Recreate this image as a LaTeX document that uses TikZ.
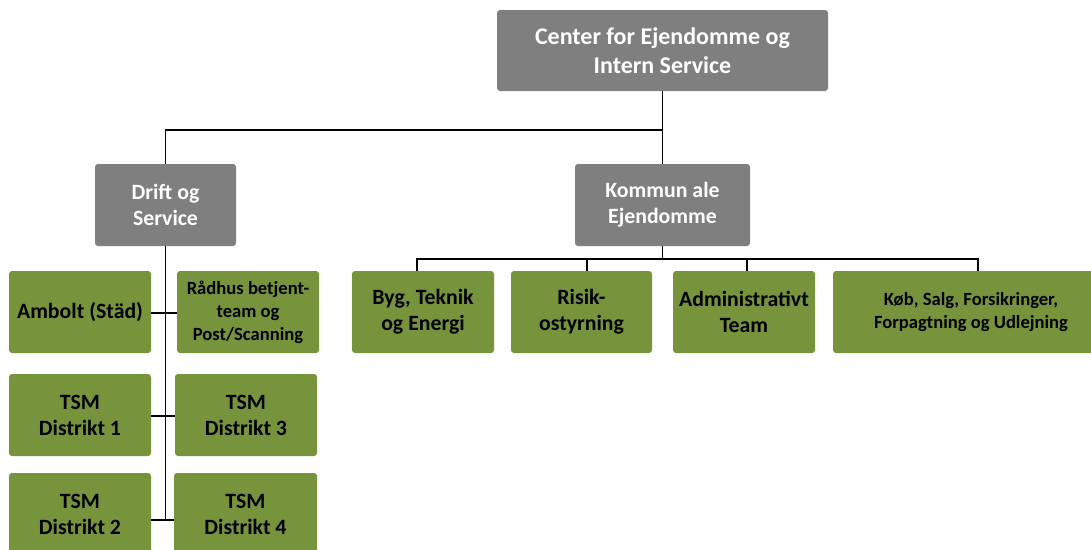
\documentclass[tikz,border=0pt]{standalone}
\usepackage{fontspec}
\setmainfont{Carlito}
\definecolor{boxgray}{HTML}{7F7F7F}
\definecolor{boxgreen}{HTML}{77933C}
\tikzset{
  base/.style={inner sep=0pt, rounded corners=3pt, align=center, font=\bfseries},
  graybox/.style={base, fill=boxgray, text=white},
  greenbox/.style={base, fill=boxgreen, text=black},
  big/.style={font=\bfseries\fontsize{24}{29}\selectfont},
  mid/.style={font=\bfseries\fontsize{21.8}{26}\selectfont},
  small/.style={font=\bfseries\fontsize{18.6}{23}\selectfont},
  conn/.style={draw=black, line width=1.8pt}
}
\begin{document}
\begin{tikzpicture}[x=1pt,y=-1pt]
\useasboundingbox[fill=white] (0,0) rectangle (1091,549);
\begin{scope}
\clip (0,0) rectangle (1091,549);
% top
\node[graybox, big, minimum width=331pt, minimum height=81pt] (top) at (662.5,50.5) {Center for Ejendomme og\\Intern Service};
% level 2
\node[graybox, mid, minimum width=141pt, minimum height=82pt] (drift) at (165.5,205) {Drift og\\Service};
\node[graybox, mid, minimum width=175pt, minimum height=82pt] (kom) at (662.5,205) {Kommun ale\\Ejendomme};
% left column
\node[greenbox, mid, minimum width=142pt, minimum height=82pt] (amb) at (80,312) {Ambolt (Städ)};
\node[greenbox, small, minimum width=142pt, minimum height=82pt] (rad) at (248,312) {Rådhus betjent-\\team og\\Post/Scanning};
\node[greenbox, mid, minimum width=142pt, minimum height=82pt] (d1) at (80,415) {TSM\\Distrikt 1};
\node[greenbox, mid, minimum width=142pt, minimum height=82pt] (d3) at (246,415) {TSM\\Distrikt 3};
\node[greenbox, mid, minimum width=142pt, minimum height=82pt] (d2) at (80,514) {TSM\\Distrikt 2};
\node[greenbox, mid, minimum width=143pt, minimum height=82pt] (d4) at (245.5,514) {TSM\\Distrikt 4};
% right row
\node[greenbox, mid, minimum width=142pt, minimum height=82pt] (b1) at (423,312) {Byg, Teknik\\og Energi};
\node[greenbox, mid, minimum width=141pt, minimum height=82pt] (b2) at (581.5,312) {Risik-\\ostyrning};
\node[greenbox, mid, minimum width=142pt, minimum height=82pt] (b3) at (744,312) {Administrativt\\Team};
\node[greenbox, small, minimum width=276pt, minimum height=82pt] (b4) at (971,312) {Køb, Salg, Forsikringer,\\Forpagtning og Udlejning};
% connectors
\coordinate (bar1) at (0,130);
\coordinate (bar2) at (0,259);
\coordinate (sp) at (0,520);
\draw[conn] (top.south) -- (kom.north);
\draw[conn] (top.south |- bar1) -| (drift.north);
\draw[conn] (drift.south) -- (drift.south |- sp);
\draw[conn] (amb.east |- 0,313) -- (rad.west |- 0,313);
\draw[conn] (d1.east |- 0,416) -- (d3.west |- 0,416);
\draw[conn] (d2.east |- sp) -- (d4.west |- sp);
\draw[conn] (kom.south) -- (kom.south |- bar2);
\draw[conn] ([xshift=-6pt]b1.north) -- ([xshift=-6pt]b1.north |- bar2) -- ([xshift=7pt]b4.north |- bar2) -- ([xshift=7pt]b4.north);
\draw[conn] ([xshift=5.5pt]b2.north) -- ([xshift=5.5pt]b2.north |- bar2);
\draw[conn] ([xshift=3pt]b3.north) -- ([xshift=3pt]b3.north |- bar2);
\end{scope}
\end{tikzpicture}
\end{document}
